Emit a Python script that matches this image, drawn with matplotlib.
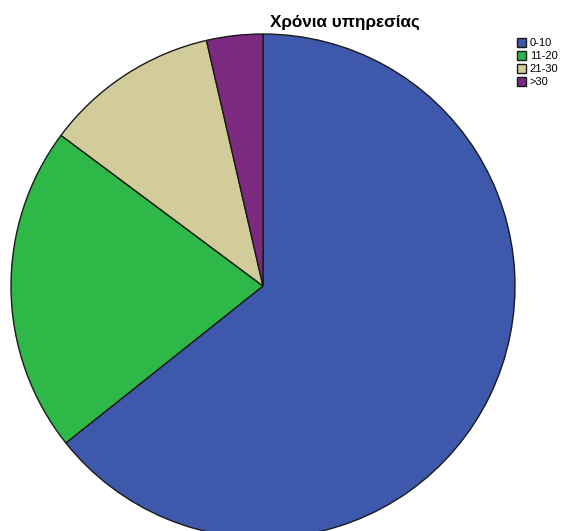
import matplotlib.pyplot as plt

plt.rcParams["font.family"] = ["Liberation Sans", "DejaVu Sans"]

categories = ["0-10", "11-20", "21-30", ">30"]
shares = [64.3, 20.9, 11.2, 3.6]
colors = ["#3e58ac", "#2eb848", "#d1cc99", "#7b2a80"]

W, H = 563, 531
fig = plt.figure(figsize=(W / 100, H / 100), dpi=100)
ax = fig.add_axes([0, 0, 1, 1])

wedges, _ = ax.pie(
    shares,
    colors=colors,
    startangle=90,
    counterclock=False,
    center=(263, H - 286),
    radius=252,
    frame=True,
    wedgeprops=dict(edgecolor="#1a1a1a", linewidth=1.0),
)
ax.set_xlim(0, W)
ax.set_ylim(0, H)
ax.set_aspect("equal")
ax.axis("off")

fig.text(345 / W, 1 - 22 / H, "Χρόνια υπηρεσίας", ha="center", va="center",
         fontsize=12.3, fontweight="bold")

leg = fig.legend(
    wedges, categories,
    loc="upper left",
    bbox_to_anchor=(517 / W, 1 - 38 / H),
    frameon=False,
    fontsize=8,
    handlelength=0.85,
    handleheight=0.85,
    handletextpad=0.3,
    labelspacing=0.25,
    borderpad=0,
    borderaxespad=0,
)

plt.savefig("out.png", dpi=100)
